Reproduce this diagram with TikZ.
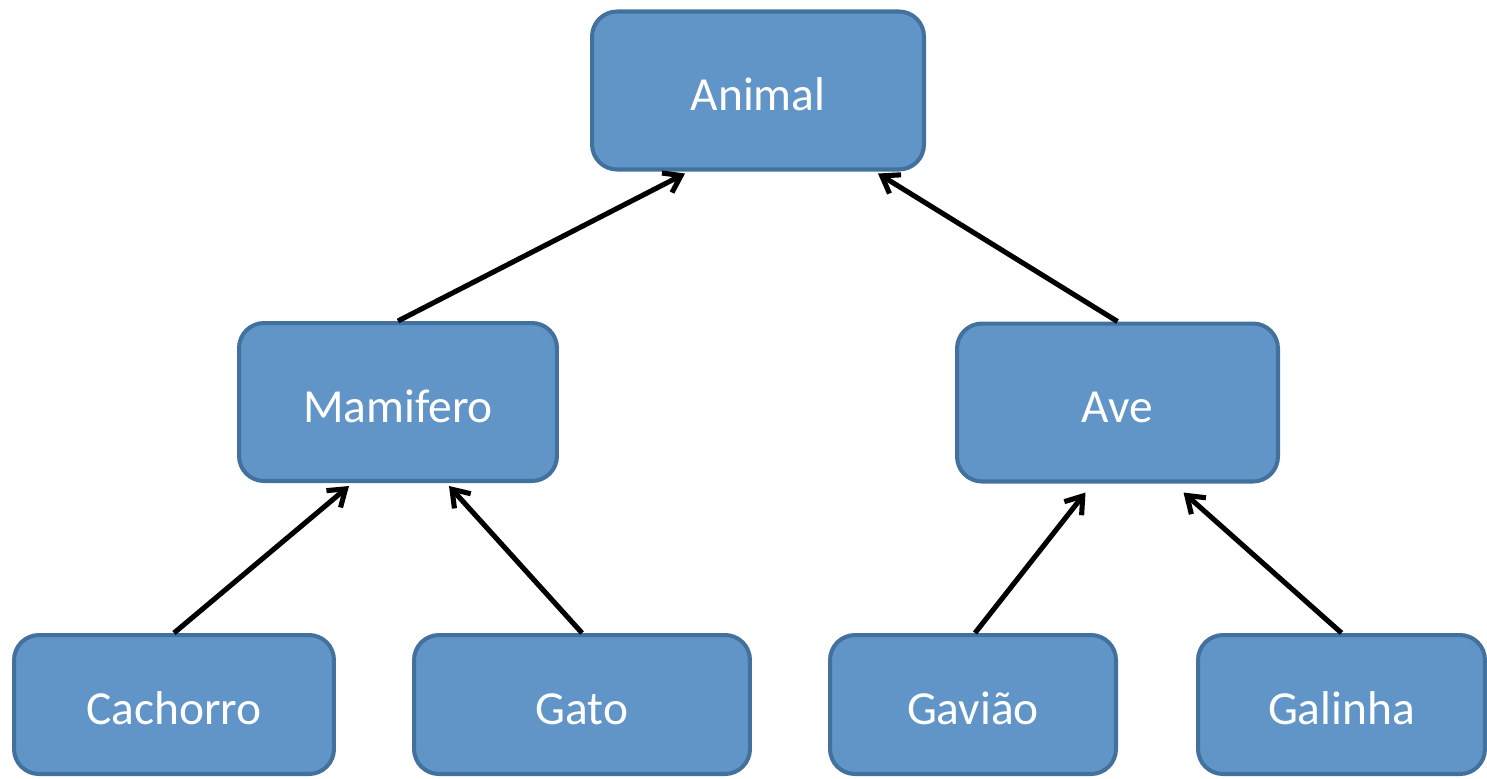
\documentclass[tikz,border=0pt]{standalone}
\usepackage{fontspec}
\setmainfont{Carlito}
\usepackage{tikz}
\usetikzlibrary{positioning,
                arrows.meta,                % arrow tips
                calc}
\definecolor{boxfill}{RGB}{97,149,200}
\definecolor{boxline}{RGB}{65,113,156}

\begin{document}
\begin{tikzpicture}[x=0.02cm, y=-0.02cm,
        classbox/.style={draw=boxline, fill=boxfill, line width=2.3pt,
                         rounded corners=0.5cm, text=white,
                         font=\fontsize{27}{31}\selectfont, inner sep=0pt,
                         text height=23pt, text depth=0pt},
        upper/.style={classbox, minimum height=3.16cm},
        lower/.style={classbox, minimum height=2.78cm},
        inherit/.style={line width=2.9pt, -{Straight Barb[length=9pt,width=12.5pt]}}]
        \useasboundingbox (0,0) rectangle (1487,778);

        \node[upper, minimum width=6.64cm] (animal) at (758,90.5) {Animal};
        \node[upper, minimum width=6.36cm] (mamifero) at (398,402) {Mamifero};
        \node[upper, minimum width=6.42cm] (ave) at (1117.5,402.5) {Ave};

        \node[lower, minimum width=6.40cm] (cachorro) at (174,704.5) {Cachorro};
        \node[lower, minimum width=6.72cm] (gato) at (582,704.5) {Gato};
        \node[lower, minimum width=5.72cm] (gaviao) at (973,704.5) {Gavião};
        \node[lower, minimum width=5.74cm] (galinha) at (1341.5,704.5) {Galinha};

        \draw[inherit] (mamifero.north) -- ($(animal.south)+(-73,2)$);
        \draw[inherit] (ave.north) -- ($(animal.south)+(120,2)$);
        \draw[inherit] (cachorro.north) -- ($(mamifero.south)+(-49,3)$);
        \draw[inherit] (gato.north) -- ($(mamifero.south)+(51,3)$);
        \draw[inherit] ($(gaviao.north)+(2,0)$) -- ($(ave.south)+(-32,9)$);
        \draw[inherit] (galinha.north) -- ($(ave.south)+(66,9)$);

\end{tikzpicture}
\end{document}
